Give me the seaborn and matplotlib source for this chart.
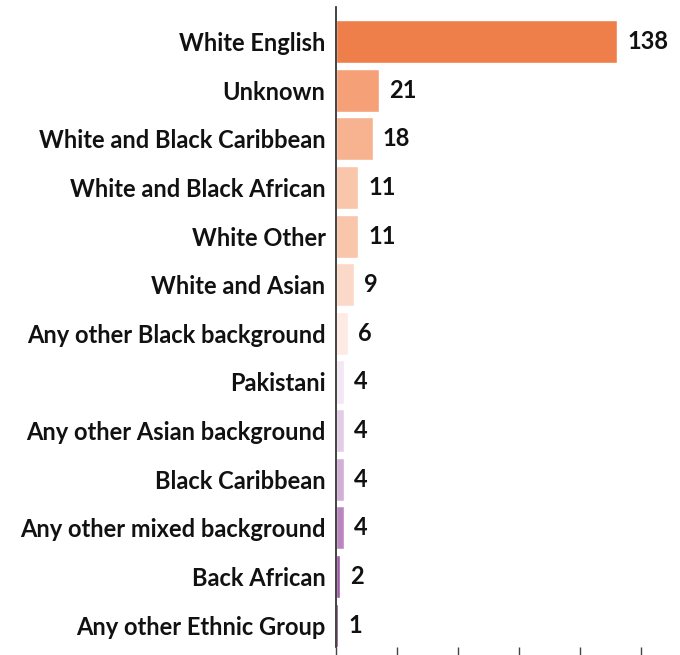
import matplotlib
matplotlib.use("Agg")
import matplotlib.pyplot as plt
import seaborn as sns
import pandas as pd

categories = ["White English", "Unknown", "White and Black Caribbean", "White and Black African",
              "White Other", "White and Asian", "Any other Black background", "Pakistani",
              "Any other Asian background", "Black Caribbean", "Any other mixed background",
              "Back African", "Any other Ethnic Group"]
values = [138, 21, 18, 11, 11, 9, 6, 4, 4, 4, 4, 2, 1]
colors = ["#EF7F4A", "#F5A077", "#F7B290", "#F9C5AB", "#F9C5AB", "#FBD9C9", "#FDEAE3",
          "#F2E7F3", "#E3CDE5", "#D2AFD4", "#BA86BF", "#9E5CA6", "#5A1F5C"]

sns.set_style("white")
plt.rcParams['font.family'] = ['Lato', 'DejaVu Sans']

df = pd.DataFrame({"cat": categories, "val": values})

fig = plt.figure(figsize=(6.8, 6.55), dpi=100)
ax = fig.add_axes([0.494, 0.0122, 0.494, 0.977])
sns.barplot(data=df, y="cat", x="val", hue="cat", palette=colors, legend=False,
            width=0.885, saturation=1, ax=ax, orient="h")

ax.set_xlim(0, 165)
ax.set_ylim(12.45, -0.71)
ax.set_xticks([0, 30, 60, 90, 120, 150])
ax.set_xticklabels([])
ax.set_xlabel("")
ax.set_ylabel("")
for s in ["top", "right", "bottom"]:
    ax.spines[s].set_visible(False)
ax.spines["left"].set_color("#222222")
ax.spines["left"].set_linewidth(1.2)
ax.tick_params(axis="x", bottom=True, length=8, width=1, color="#444444", direction="out", pad=0)
ax.tick_params(axis="y", left=False, pad=4)
for lab in ax.get_yticklabels():
    lab.set_fontsize(17)
    lab.set_fontweight("bold")
    lab.set_color("#111111")

for i, v in enumerate(values):
    ax.text(v + 5, i, str(v), va="center", ha="left", fontsize=17,
            fontweight="bold", color="#111111")

fig.savefig("out.png", dpi=100)
